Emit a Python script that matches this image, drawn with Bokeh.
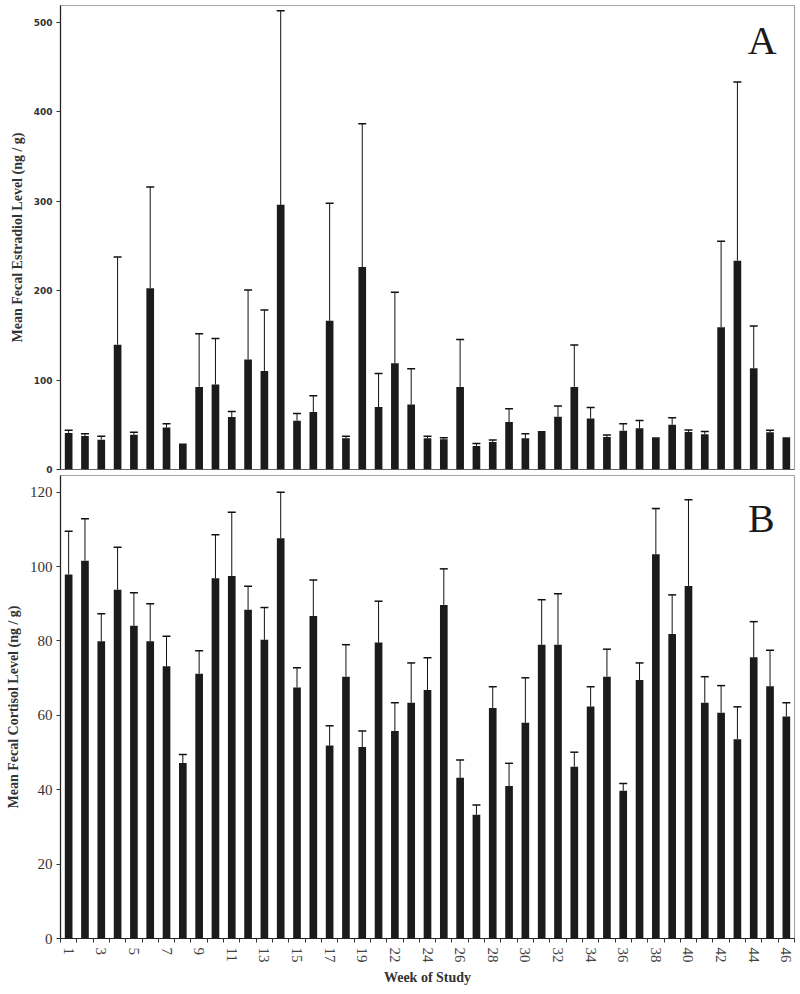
from bokeh.plotting import figure
from bokeh.layouts import column
from bokeh.models import (ColumnDataSource, Range1d, FixedTicker, Whisker, TeeHead, Label, Span)
from bokeh.embed import file_html
from bokeh.resources import INLINE

# ---------------- data ----------------
weeks = ["1", "2", "3", "4", "5", "6", "7", "8", "9", "10", "11", "12", "13", "14", "15",
         "16", "17", "18", "19", "21", "22", "23", "24", "25", "26", "27", "28", "29", "30",
         "31", "32", "33", "34", "35", "36", "37", "38", "39", "40", "41", "42", "43", "44",
         "45", "46"]

estradiol = [40.8, 37.5, 33.4, 139.6, 39.0, 202.7, 47.1, 29.0, 92.4, 95.0, 58.6, 122.9,
             110.2, 296.0, 54.6, 64.2, 166.3, 34.9, 226.4, 69.8, 118.8, 72.7, 34.9, 33.8,
             92.4, 26.4, 30.8, 53.1, 34.9, 43.1, 59.0, 92.4, 57.1, 36.4, 43.4, 46.0, 36.0,
             50.1, 42.0, 39.3, 159.2, 233.5, 113.2, 41.6, 36.0]
estradiol_sem = [3.0, 2.6, 3.7, 98.0, 2.6, 113.3, 4.1, 0.0, 59.4, 51.6, 6.4, 77.9,
                 68.3, 217.0, 8.1, 18.2, 131.4, 2.2, 160.4, 37.5, 79.4, 40.1, 2.2, 1.8,
                 53.1, 2.6, 2.2, 14.8, 5.2, 0.0, 11.9, 46.8, 12.3, 2.2, 7.8, 8.9, 0.0,
                 7.8, 2.2, 3.3, 96.2, 200.0, 47.2, 2.2, 0.0]

cortisol = [97.9, 101.6, 79.9, 93.8, 84.1, 79.9, 73.2, 47.2, 71.2, 96.9, 97.5, 88.4,
            80.3, 107.6, 67.5, 86.7, 51.9, 70.4, 51.5, 79.6, 55.8, 63.4, 66.8, 89.7,
            43.2, 33.3, 62.0, 41.0, 58.0, 79.0, 79.0, 46.2, 62.4, 70.4, 39.7, 69.5,
            103.3, 81.9, 94.8, 63.4, 60.7, 53.6, 75.6, 67.8, 59.7]
cortisol_sem = [11.6, 11.3, 7.4, 11.4, 8.9, 10.1, 8.1, 2.3, 6.2, 11.7, 17.1, 6.3,
                8.7, 12.4, 5.3, 9.7, 5.3, 8.6, 4.3, 11.1, 7.6, 10.7, 8.7, 9.7,
                4.8, 2.6, 5.7, 6.1, 12.1, 12.1, 13.7, 3.9, 5.3, 7.4, 2.0, 4.6,
                12.3, 10.5, 23.2, 7.0, 7.3, 8.7, 9.6, 9.7, 3.7]

estradiol_ticks = [0, 100, 200, 300, 400, 500]
cortisol_ticks = [0, 20, 40, 60, 80, 100, 120]

# ---------------- helpers ----------------
n = len(weeks)
xs = list(range(1, n + 1))
boundaries = [i + 0.5 for i in range(0, n + 1)]
label_pos = xs[::2]
label_map = {x: weeks[x - 1] for x in label_pos}

BAR = "#1b1b1b"
SERIF = "Liberation Serif"


def make_panel(vals, sems, ymax, yticks, height, show_labels, ylabel, letter,
               letter_x, letter_y, tick_font, tick_size, tick_style, min_top, min_bottom):
    p = figure(width=800, height=height, output_backend="svg", toolbar_location=None,
               x_range=Range1d(0.5, n + 0.5), y_range=Range1d(0, ymax),
               min_border_left=60, min_border_right=6, min_border_top=min_top,
               min_border_bottom=min_bottom)
    p.grid.visible = False
    p.outline_line_color = "#a6a6a6"
    p.outline_line_width = 1.2
    p.background_fill_color = "white"
    p.border_fill_color = "white"

    src = ColumnDataSource(dict(x=xs, v=vals))
    p.vbar(x="x", top="v", bottom=0, width=0.47, source=src,
           fill_color=BAR, line_color=None)

    ex = [x for x, s in zip(xs, sems) if s > 0]
    lo = [v for v, s in zip(vals, sems) if s > 0]
    hi = [v + s for v, s in zip(vals, sems) if s > 0]
    wsrc = ColumnDataSource(dict(x=ex, lo=lo, hi=hi))
    w = Whisker(source=wsrc, base="x", lower="lo", upper="hi", dimension="height",
                line_color="#111111", line_width=1,
                upper_head=TeeHead(size=8, line_color="#111111", line_width=1.5),
                lower_head=None)
    p.add_layout(w)

    # y axis
    ya = p.yaxis[0]
    ya.ticker = FixedTicker(ticks=yticks)
    ya.axis_line_color = "#222222"
    ya.axis_line_width = 1.2
    ya.major_tick_out = 4
    ya.major_tick_in = 0
    ya.major_tick_line_color = "#333333"
    ya.minor_tick_line_color = None
    ya.major_label_text_font = tick_font
    ya.major_label_text_font_size = tick_size
    ya.major_label_text_font_style = tick_style
    ya.major_label_text_color = "#333333"
    ya.major_label_standoff = 4
    ya.axis_label = ylabel
    ya.axis_label_text_font = SERIF
    ya.axis_label_text_font_size = "14px"
    ya.axis_label_text_font_style = "bold"
    ya.axis_label_text_color = "#333333"
    ya.axis_label_standoff = 6

    xa = p.xaxis[0]
    if show_labels:
        # ticks at category boundaries (minor), labels at every other week
        xa.ticker = FixedTicker(ticks=label_pos, minor_ticks=boundaries)
        xa.axis_line_color = "#222222"
        xa.axis_line_width = 1.2
        xa.major_tick_line_color = None
        xa.minor_tick_line_color = "#333333"
        xa.minor_tick_out = 4
        xa.minor_tick_in = 0
        xa.major_label_overrides = label_map
        xa.major_label_orientation = "vertical"
        xa.major_label_text_font = SERIF
        xa.major_label_text_font_size = "15px"
        xa.major_label_text_color = "#444444"
        xa.major_label_standoff = 3
        xa.axis_label = "Week of Study"
        xa.axis_label_text_font = SERIF
        xa.axis_label_text_font_size = "14px"
        xa.axis_label_text_font_style = "bold"
        xa.axis_label_text_color = "#333333"
        xa.axis_label_standoff = 4
    else:
        xa.visible = False
        p.add_layout(Span(location=0, dimension="width", line_color="#222222",
                          line_width=1.2))

    p.add_layout(Label(x=letter_x, y=letter_y, text=letter, text_align="right",
                       text_baseline="top", text_font=SERIF, text_font_size="40px",
                       text_color="#1a1a1a"))
    return p


p1 = make_panel(estradiol, estradiol_sem, 519, estradiol_ticks, 475, False,
                "Mean Fecal Estradiol Level (ng / g)", "A", 44.4, 504.5,
                "DejaVu Sans", "9px", "bold", 5, 6)
p2 = make_panel(cortisol, cortisol_sem, 124.5, cortisol_ticks, 519, True,
                "Mean Fecal Cortisol Level (ng / g)", "B", 44.28, 119.1,
                SERIF, "15px", "normal", 0, 56)

layout = column(p1, p2, spacing=0)

open("out.html", "w").write(file_html(layout, INLINE))
